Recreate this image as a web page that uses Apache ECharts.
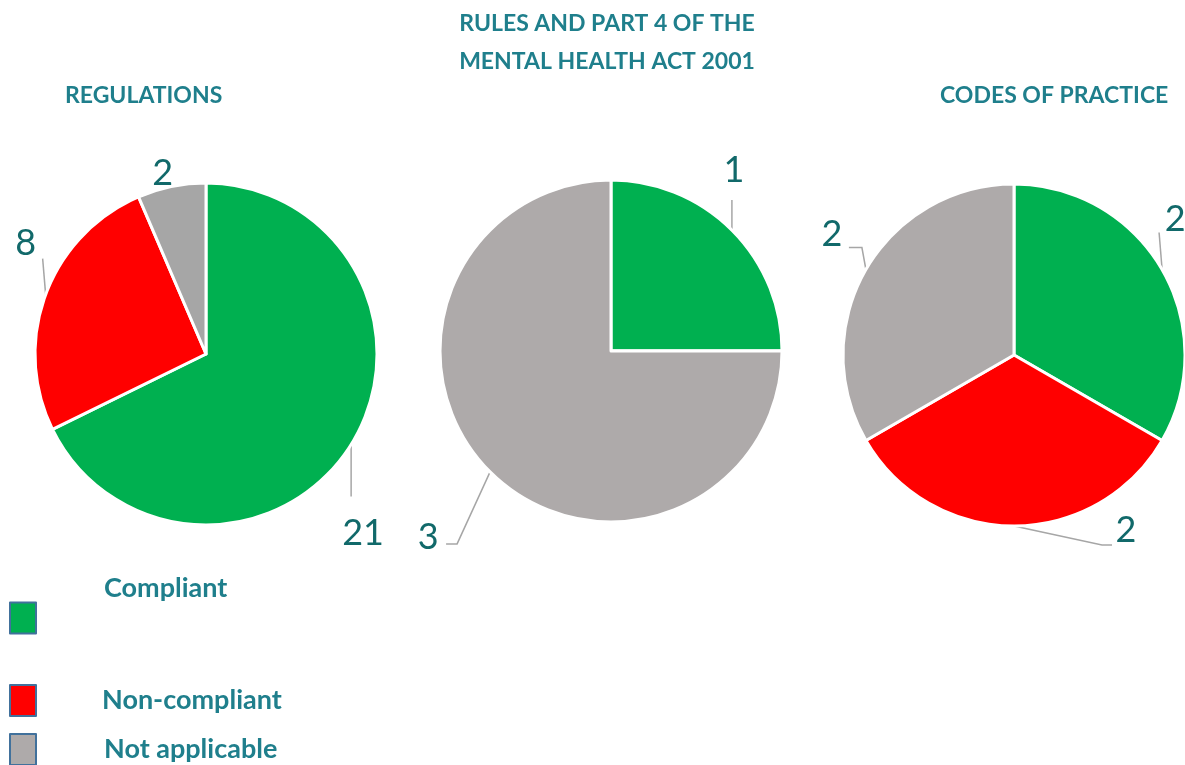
<!DOCTYPE html>
<html>
<head>
<meta charset="utf-8">
<script src="https://cdn.jsdelivr.net/npm/echarts@6/dist/echarts.min.js"></script>
<style>html,body{margin:0;padding:0;background:#fff}#c{width:1185px;height:765px}</style>
</head>
<body>
<div id="c"></div>
<script>
const categories = ['Compliant', 'Non-compliant', 'Not applicable'];
const chartTitles = ['REGULATIONS', 'RULES AND PART 4 OF THE\nMENTAL HEALTH ACT 2001', 'CODES OF PRACTICE'];
const regulations = [21, 8, 2];
const rulesPart4 = [1, 0, 3];
const codesOfPractice = [2, 2, 2];

// label placement (style only), relative to the slice's edge anchor computed by ECharts:
// text: label centre offset; line: leader-line bend/end offsets (null = no leader line)
const labelPlacement = [
  [ { text: [12, 89], line: [[0, 52]] },
    { text: [-20, -51], line: [[-3, -36]] },
    { text: [-9, -13], line: null } ],
  [ { text: [2, -60], line: [[0, -30]] },
    null,
    { text: [-62, 65], line: [[-33, 72], [-44, 72]] } ],
  [ { text: [13, -50], line: [[-3, -37]] },
    { text: [112, 4], line: [[88, 19], [98, 19]] },
    { text: [-34, -35], line: [[-4, -22], [-17, -22]] } ]
];

const green = '#00B050', red = '#FF0000', grey1 = '#A6A6A6', grey2 = '#AEAAAA';
const titleColor = '#1F7F8C', labelColor = '#11696A';
const FONT = 'Lato, "Open Sans", sans-serif';

function mkData(vals, colors) {
  return vals.map((v, i) => ({
    name: categories[i], value: v,
    itemStyle: { color: colors[i] },
    label: { show: v > 0 }, labelLine: { show: v > 0 }
  }));
}

function pie(si, center, vals, colors) {
  return {
    type: 'pie', center: center, radius: 171, startAngle: 90, clockwise: true,
    animation: false, avoidLabelOverlap: false,
    itemStyle: { borderColor: '#fff', borderWidth: 3 },
    label: { position: 'outside', color: labelColor, fontSize: 36, fontFamily: FONT, formatter: '{c}' },
    labelLine: { length: 18, length2: 10, lineStyle: { color: '#A6A6A6', width: 1.5 } },
    labelLayout: function (p) {
      const cfg = labelPlacement[si][p.dataIndex];
      if (!cfg || !p.labelLinePoints) return {};
      const a = p.labelLinePoints[0];
      const pts = [[a[0], a[1]]];
      (cfg.line || [[0, 0]]).forEach(o => pts.push([a[0] + o[0], a[1] + o[1]]));
      while (pts.length < 3) pts.push(pts[pts.length - 1].slice());
      return {
        x: a[0] + cfg.text[0], y: a[1] + cfg.text[1],
        align: 'center', verticalAlign: 'middle',
        labelLinePoints: pts
      };
    },
    emphasis: { disabled: true },
    data: mkData(vals, colors)
  };
}

const legendColors = [green, red, grey2];
function legendItem(i, top, padLeft, fmt, lh) {
  const ts = { color: titleColor, fontSize: 27, fontWeight: 'bold', fontFamily: FONT, padding: [0, 0, 0, padLeft] };
  if (lh) ts.lineHeight = lh;
  return {
    orient: 'vertical', left: 9, top: top, padding: 0, icon: 'rect', itemWidth: 26, itemHeight: 31,
    selectedMode: false,
    formatter: fmt,
    textStyle: ts,
    data: [{ name: categories[i], itemStyle: { color: legendColors[i], borderColor: '#41719C', borderWidth: 2 } }]
  };
}

const option = {
  backgroundColor: '#fff',
  title: [
    { text: chartTitles[0], left: 65, top: 84, padding: 0, textStyle: { color: titleColor, fontSize: 23, fontWeight: 'bold', fontFamily: FONT } },
    { text: chartTitles[1], left: 607, top: 5, padding: 0, textAlign: 'center', textStyle: { color: titleColor, fontSize: 23, fontWeight: 'bold', fontFamily: FONT, lineHeight: 38 } },
    { text: chartTitles[2], left: 940, top: 84, padding: 0, textStyle: { color: titleColor, fontSize: 23, fontWeight: 'bold', fontFamily: FONT } }
  ],
  legend: [
    legendItem(0, 558, 63, function (n) { return n + '\n '; }, 60),
    legendItem(1, 684, 61, '{name}'),
    legendItem(2, 733, 63, '{name}')
  ],
  series: [
    pie(0, [206, 354], regulations, [green, red, grey1]),
    pie(1, [611, 351], rulesPart4, [green, red, grey2]),
    pie(2, [1014, 355], codesOfPractice, [green, red, grey2])
  ]
};
const chart = echarts.init(document.getElementById('c'), null, { renderer: 'canvas' });
chart.setOption(option);
</script>
</body>
</html>
